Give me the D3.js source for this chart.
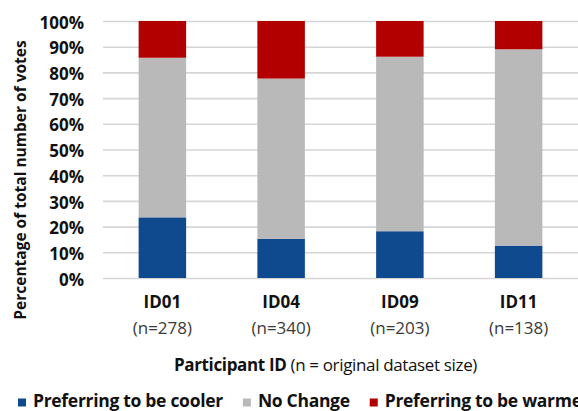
<!DOCTYPE html>
<html>
<head>
<meta charset="utf-8">
<script src="https://cdn.jsdelivr.net/npm/d3@7"></script>
<style>
  html, body { margin: 0; padding: 0; background: #fff; }
  svg { display: block; font-family: "Open Sans", "Liberation Sans", Arial, sans-serif; }
</style>
</head>
<body>
<svg id="chart" width="578" height="411"></svg>
<script>
// Thermal preference votes per participant (share of total votes, %)
const categories = ["ID01", "ID04", "ID09", "ID11"];
const sampleSizes = [278, 340, 203, 138];
const cooler = [23.6, 15.2, 18.2, 12.6];
const noChange = [62.1, 62.4, 67.9, 76.4];
const warmer = [14.3, 22.4, 13.9, 11.0];
const yTicks = [0, 10, 20, 30, 40, 50, 60, 70, 80, 90, 100];

const seriesNames = ["Preferring to be cooler", "No Change", "Preferring to be warmer"];
const seriesKeys = ["cooler", "noChange", "warmer"];
const colors = ["#104a8e", "#b9b9b9", "#b20000"];

const rows = categories.map((c, i) => ({
  id: c, n: sampleSizes[i], cooler: cooler[i], noChange: noChange[i], warmer: warmer[i]
}));

const svg = d3.select("#chart");

const x = d3.scaleBand().domain(categories).range([103, 578]).paddingInner(0.6).paddingOuter(0.3);
const y = d3.scaleLinear().domain([0, 100]).range([278, 21]);

// Gridlines and y tick labels
const yAxis = svg.append("g")
  .attr("transform", "translate(103,0)")
  .call(d3.axisLeft(y).tickValues(yTicks).tickFormat(d => d + "%").tickSize(-475).tickPadding(19));
yAxis.select(".domain").remove();
yAxis.selectAll(".tick line").attr("stroke", "#d6d6d6").attr("stroke-width", 1.6);
yAxis.selectAll(".tick text")
  .attr("fill", "#111").attr("font-size", 17).attr("font-weight", 700)
  .attr("font-family", "'Open Sans', 'Liberation Sans', Arial, sans-serif")
  .attr("dy", "0.42em");

// Stacked bars
const stack = d3.stack().keys(seriesKeys);
const layers = stack(rows);
svg.append("g").selectAll("g").data(layers).join("g")
  .attr("fill", (d, i) => colors[i])
  .selectAll("rect").data(d => d).join("rect")
  .attr("x", d => x(d.data.id))
  .attr("width", x.bandwidth())
  .attr("y", d => y(d[1]))
  .attr("height", d => y(d[0]) - y(d[1]));

// Category labels with dataset sizes
const xl = svg.append("g");
xl.selectAll("text.id").data(rows).join("text")
  .attr("class", "id")
  .attr("x", d => x(d.id) + x.bandwidth() / 2)
  .attr("y", 308)
  .attr("text-anchor", "middle")
  .attr("font-size", 17).attr("font-weight", 700).attr("fill", "#111")
  .text(d => d.id);
xl.selectAll("text.n").data(rows).join("text")
  .attr("class", "n")
  .attr("x", d => x(d.id) + x.bandwidth() / 2)
  .attr("y", 334)
  .attr("text-anchor", "middle")
  .attr("font-size", 17).attr("font-weight", 400).attr("fill", "#3a3a3a")
  .text(d => "(n=" + d.n + ")");

// X axis title
const xt = svg.append("text")
  .attr("x", 325.5).attr("y", 371)
  .attr("text-anchor", "middle")
  .attr("font-size", 17).attr("letter-spacing", -0.35).attr("fill", "#111");
xt.append("tspan").attr("font-weight", 700).text("Participant ID");
xt.append("tspan").attr("font-weight", 400).text(" (n = original dataset size)");

// Y axis title
svg.append("text")
  .attr("transform", "translate(26,180) rotate(-90)")
  .attr("text-anchor", "middle")
  .attr("font-size", 15.5).attr("font-weight", 700).attr("fill", "#111")
  .text("Percentage of total number of votes");

// Legend
const legend = svg.append("g");
let lx = 18;
seriesNames.forEach((name, i) => {
  legend.append("rect")
    .attr("x", lx).attr("y", 398.5).attr("width", 8).attr("height", 8)
    .attr("fill", colors[i]);
  const t = legend.append("text")
    .attr("x", lx + 15).attr("y", 407)
    .attr("font-size", 17.5).attr("font-weight", 700).attr("letter-spacing", -0.3).attr("fill", "#111")
    .text(name);
  lx += 15 + t.node().getComputedTextLength() + 20;
});
</script>
</body>
</html>
